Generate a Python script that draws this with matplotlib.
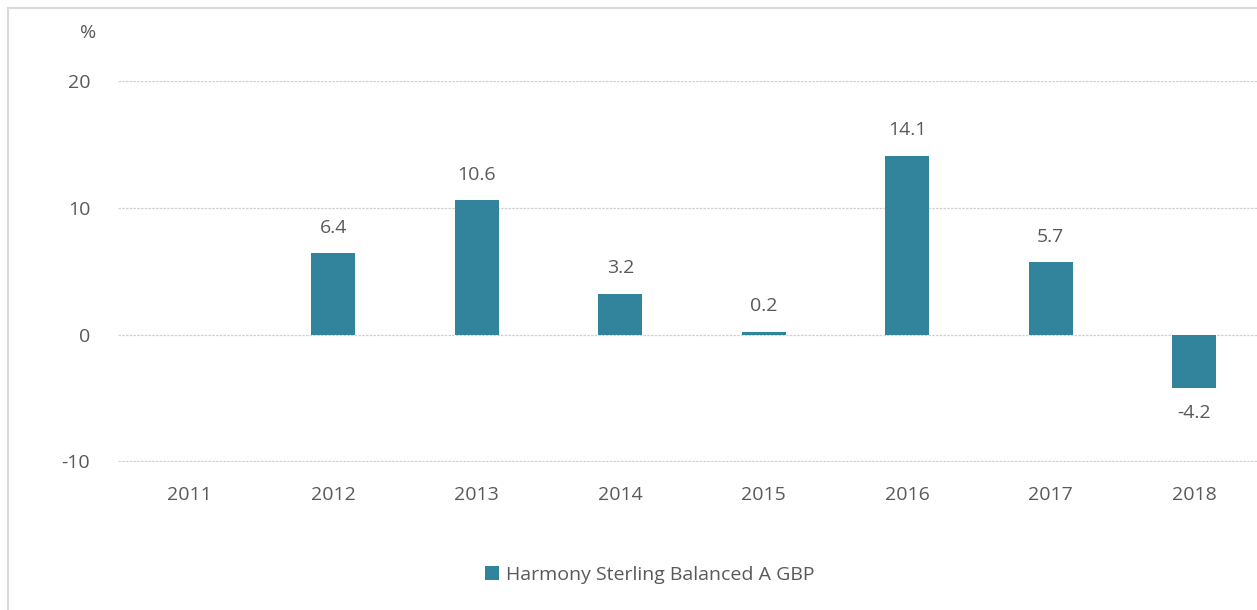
import numpy as np
import matplotlib.pyplot as plt
from matplotlib.patches import Rectangle

years = ['2011', '2012', '2013', '2014', '2015', '2016', '2017', '2018']
returns = [np.nan, 6.4, 10.6, 3.2, 0.2, 14.1, 5.7, -4.2]
series_name = 'Harmony Sterling Balanced A GBP'
y_ticks = [-10, 0, 10, 20]

BAR_COLOR = '#31849B'
TEXT_COLOR = '#595959'
GRID_COLOR = '#d0d0d0'
FS = 14

plt.rcParams['font.family'] = ['Open Sans', 'DejaVu Sans']
plt.rcParams['axes.unicode_minus'] = False

fig = plt.figure(figsize=(12.57, 6.10), dpi=100)
ax = fig.add_axes([118 / 1257, 148 / 610, 1148 / 1257, 381 / 610])

x = np.arange(len(years))
ax.bar(x, returns, width=0.31, color=BAR_COLOR, label=series_name, zorder=3)

for xi, val in zip(x, returns):
    if np.isnan(val):
        continue
    offset = 12 if val >= 0 else -12
    ax.annotate(f'{val:.1f}', (xi, val), xytext=(0, offset), textcoords='offset points',
                ha='center', va='bottom' if val >= 0 else 'top',
                fontsize=FS, color=TEXT_COLOR)

ax.set_xlim(-0.5, len(years) - 0.5)
ax.set_ylim(-10.05, 20)
ax.set_yticks(y_ticks)
ax.set_xticks(x)
ax.set_xticklabels(years)
ax.tick_params(axis='y', length=0, pad=20, labelsize=FS, labelcolor=TEXT_COLOR)
ax.tick_params(axis='x', length=0, pad=17, labelsize=FS, labelcolor=TEXT_COLOR)
ax.grid(axis='y', color=GRID_COLOR, linestyle=(0, (2, 1)), linewidth=0.9, zorder=0)
for s in ax.spines.values():
    s.set_visible(False)

fig.text(88 / 1257, 1 - 33 / 610, '%', ha='center', va='center',
         fontsize=FS, color=TEXT_COLOR)

fig.legend(loc='center', bbox_to_anchor=(0.517, 1 - 575 / 610), frameon=False,
           fontsize=FS, labelcolor=TEXT_COLOR, handlelength=0.7, handleheight=0.7,
           handletextpad=0.4)

# light border of the chart area
fig.patches.append(Rectangle((8 / 1257, -0.1), 1.1, 1 - 8 / 610 + 0.1,
                             transform=fig.transFigure, fill=False,
                             edgecolor='#d9d9d9', linewidth=1.5))

fig.savefig('out.png', dpi=100)
